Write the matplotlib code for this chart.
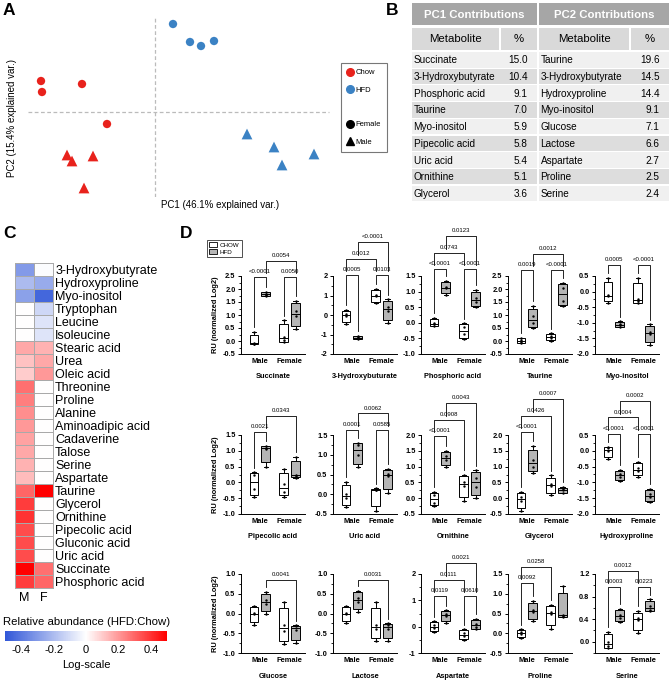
import matplotlib
matplotlib.use("Agg")
import matplotlib.pyplot as plt
import numpy as np
from matplotlib.patches import Rectangle, Patch
from matplotlib.lines import Line2D
from matplotlib.colors import LinearSegmentedColormap
from matplotlib.ticker import MultipleLocator, AutoMinorLocator, FormatStrFormatter

plt.rcParams["font.family"] = ["Liberation Sans", "DejaVu Sans"]
plt.rcParams["axes.unicode_minus"] = False

W, H = 669, 680

# ---------------- A: PCA scores ----------------
chow_f_pc1 = [-4.56, -4.52, -2.92, -1.92]
chow_f_pc2 = [1.24, 0.80, 1.12, -0.48]
chow_m_pc1 = [-3.52, -3.32, -2.48, -2.84]
chow_m_pc2 = [-1.72, -1.96, -1.76, -3.04]
hfd_f_pc1 = [0.72, 1.40, 1.84, 2.36]
hfd_f_pc2 = [3.52, 2.80, 2.64, 2.84]
hfd_m_pc1 = [3.68, 4.76, 5.08, 6.36]
hfd_m_pc2 = [-0.88, -1.40, -2.12, -1.68]

# ---------------- B: contributions table ----------------
pc1_names = ["Succinate", "3-Hydroxybutyrate", "Phosphoric acid", "Taurine", "Myo-inositol",
             "Pipecolic acid", "Uric acid", "Ornithine", "Glycerol"]
pc1_pct = ["15.0", "10.4", "9.1", "7.0", "5.9", "5.8", "5.4", "5.1", "3.6"]
pc2_names = ["Taurine", "3-Hydroxybutyrate", "Hydroxyproline", "Myo-inositol", "Glucose",
             "Lactose", "Aspartate", "Proline", "Serine"]
pc2_pct = ["19.6", "14.5", "14.4", "9.1", "7.1", "6.6", "2.7", "2.5", "2.4"]

# ---------------- C: heatmap (HFD:Chow, log) ----------------
heat_names = ["3-Hydroxybutyrate", "Hydroxyproline", "Myo-inositol", "Tryptophan", "Leucine",
              "Isoleucine", "Stearic acid", "Urea", "Oleic acid", "Threonine", "Proline",
              "Alanine", "Aminoadipic acid", "Cadaverine", "Talose", "Serine", "Aspartate",
              "Taurine", "Glycerol", "Ornithine", "Pipecolic acid", "Gluconic acid",
              "Uric acid", "Succinate", "Phosphoric acid"]
heat_m = [-0.30, -0.20, -0.28, 0.0, 0.0, 0.0, 0.17, 0.12, 0.10, 0.28, 0.25, 0.22, 0.20,
          0.18, 0.17, 0.15, 0.13, 0.30, 0.38, 0.40, 0.35, 0.35, 0.35, 0.50, 0.38]
heat_f = [-0.01, -0.25, -0.45, -0.12, -0.08, -0.08, 0.15, 0.17, 0.20, 0.0, 0.0, 0.0, 0.0,
          0.0, 0.0, 0.0, 0.0, 0.50, 0.0, 0.0, 0.0, 0.0, 0.0, 0.28, 0.30]

# ---------------- D: box plots (Chow M, HFD M, Chow F, HFD F) ----------------
succinate = [[-0.12, -0.10, -0.08, 0.35], [1.72, 1.78, 1.82, 1.90],
             [-0.05, 0.05, 0.15, 0.80], [0.45, 0.95, 1.15, 1.55]]
hydroxybuturate = [[-0.45, -0.05, 0.05, 0.25], [-1.25, -1.20, -1.15, -1.08],
                   [0.60, 0.95, 1.05, 1.35], [-0.40, 0.20, 0.40, 0.80]]
phosphoric = [[-0.10, -0.05, 0.0, 0.15], [0.90, 1.10, 1.15, 1.35],
              [-0.52, -0.35, -0.15, -0.02], [0.50, 0.68, 0.78, 1.05]]
taurine = [[-0.08, -0.02, 0.05, 0.12], [0.50, 0.70, 0.95, 1.35],
           [0.0, 0.10, 0.20, 0.30], [1.35, 1.55, 2.05, 2.25]]
myoinositol = [[-0.35, -0.15, -0.10, 0.45], [-1.15, -1.08, -1.03, -0.95],
               [-0.38, -0.30, -0.25, 0.45], [-1.70, -1.35, -1.28, -1.05]]
pipecolic = [[-0.45, -0.20, 0.25, 0.32], [0.50, 1.05, 1.10, 1.15],
             [-0.45, -0.30, -0.05, 0.42], [0.15, 0.20, 0.25, 0.80]]
uric = [[-0.32, -0.10, 0.0, 0.32], [0.70, 1.0, 1.25, 1.30],
        [-0.42, 0.10, 0.12, 0.15], [0.02, 0.45, 0.52, 0.65]]
ornithine = [[-0.25, -0.15, 0.10, 0.20], [0.98, 1.20, 1.35, 1.50],
             [-0.10, 0.40, 0.50, 0.75], [0.0, 0.35, 0.65, 0.88]]
glycerol = [[-0.40, -0.10, 0.05, 0.20], [0.80, 1.0, 1.20, 1.65],
            [0.10, 0.40, 0.45, 0.72], [0.15, 0.25, 0.30, 0.35]]
hydroxyproline = [[-0.25, 0.0, 0.08, 0.12], [-0.95, -0.82, -0.72, -0.60],
                  [-0.82, -0.65, -0.55, -0.35], [-1.62, -1.45, -1.38, -1.20]]
glucose = [[-0.28, -0.02, 0.02, 0.20], [0.0, 0.25, 0.35, 0.55],
           [-0.78, -0.45, -0.30, 0.30], [-0.75, -0.42, -0.32, -0.30]]
lactose = [[-0.25, -0.02, 0.02, 0.20], [0.05, 0.30, 0.40, 0.58],
           [-0.70, -0.40, -0.30, 0.30], [-0.70, -0.40, -0.30, -0.25]]
aspartate = [[-0.20, -0.05, 0.05, 0.20], [0.15, 0.40, 0.50, 0.62],
             [-0.50, -0.35, -0.25, -0.10], [-0.10, 0.0, 0.10, 0.30]]
proline = [[-0.12, -0.03, 0.03, 0.10], [0.30, 0.55, 0.60, 0.82],
           [0.12, 0.50, 0.55, 0.72], [0.40, 0.43, 0.47, 1.20]]
serine = [[-0.12, -0.08, 0.0, 0.18], [0.35, 0.42, 0.48, 0.58],
          [0.15, 0.38, 0.42, 0.55], [0.54, 0.57, 0.63, 0.75]]

# p-values: (group a, group b, label); 0=Chow M, 1=HFD M, 2=Chow F, 3=HFD F
succinate_p = [(0, 1, "<0.0001"), (2, 3, "0.0050"), (1, 3, "0.0054")]
hydroxybuturate_p = [(0, 1, "0.0005"), (2, 3, "0.0103"), (0, 2, "0.0012"), (1, 3, "<0.0001")]
phosphoric_p = [(0, 1, "<0.0001"), (2, 3, "<0.0001"), (0, 2, "0.0743"), (1, 3, "0.0123")]
taurine_p = [(0, 1, "0.0019"), (2, 3, "<0.0001"), (1, 3, "0.0012")]
myoinositol_p = [(0, 1, "0.0005"), (2, 3, "<0.0001")]
pipecolic_p = [(0, 1, "0.0021"), (1, 3, "0.0343")]
uric_p = [(0, 1, "0.0001"), (2, 3, "0.0585"), (1, 3, "0.0062")]
ornithine_p = [(0, 1, "<0.0001"), (0, 2, "0.0908"), (1, 3, "0.0043")]
glycerol_p = [(0, 1, "<0.0001"), (0, 2, "0.0426"), (1, 3, "0.0007")]
hydroxyproline_p = [(0, 1, "<0.0001"), (2, 3, "<0.0001"), (0, 2, "0.0004"), (1, 3, "0.0002")]
glucose_p = [(1, 3, "0.0041")]
lactose_p = [(1, 3, "0.0031")]
aspartate_p = [(0, 1, "0.0119"), (2, 3, "0.0610"), (0, 2, "0.0111"), (1, 3, "0.0021")]
proline_p = [(0, 1, "0.0092"), (0, 2, "0.0258")]
serine_p = [(0, 1, "0.0003"), (2, 3, "0.0223"), (0, 2, "0.0012")]

box_titles = ["Succinate", "3-Hydroxybuturate", "Phosphoric acid", "Taurine", "Myo-inositol",
              "Pipecolic acid", "Uric acid", "Ornithine", "Glycerol", "Hydroxyproline",
              "Glucose", "Lactose", "Aspartate", "Proline", "Serine"]
box_data = [succinate, hydroxybuturate, phosphoric, taurine, myoinositol,
            pipecolic, uric, ornithine, glycerol, hydroxyproline,
            glucose, lactose, aspartate, proline, serine]
box_pvals = [succinate_p, hydroxybuturate_p, phosphoric_p, taurine_p, myoinositol_p,
             pipecolic_p, uric_p, ornithine_p, glycerol_p, hydroxyproline_p,
             glucose_p, lactose_p, aspartate_p, proline_p, serine_p]
# axis ranges (ymin, ymax, step)
box_ylims = [(-0.5, 2.5, 0.5), (-2, 2, 1), (-1.0, 1.5, 0.5), (-0.5, 2.5, 0.5), (-2.0, 0.5, 0.5),
             (-1.0, 1.5, 0.5), (-0.5, 1.5, 0.5), (-0.5, 2.0, 0.5), (-0.5, 2.0, 0.5), (-2.0, 0.5, 0.5),
             (-1.0, 1.0, 0.5), (-1.0, 1.0, 0.5), (-1, 2, 1), (-0.5, 1.5, 0.5), (-0.2, 1.2, 0.4)]
# height of the lowest bracket tier, in pixels above the axis top
bracket_base = [-1, 1, 7, 6, 11, 3, 5, -1, 3, 1, -6, -6, -22, -9, -13]

fig = plt.figure(figsize=(W / 100, H / 100), dpi=100)


def add_ax_px(x0, y0, x1, y1):
    return fig.add_axes([x0 / W, 1 - y1 / H, (x1 - x0) / W, (y1 - y0) / H])


# overlay in pixel coordinates for table and panel letters
ov = fig.add_axes([0, 0, 1, 1])
ov.set_xlim(0, W)
ov.set_ylim(H, 0)
ov.axis("off")

for letter, x, y in [("A", 3, 3), ("B", 386, 3), ("C", 3, 226), ("D", 180, 226)]:
    ov.text(x, y, letter, fontsize=12.5, fontweight="bold", va="top", ha="left")

# ---------------- A ----------------
red, blue = "#e8221c", "#3b82c4"
axA = add_ax_px(25, 10, 335, 197)
axA.set_xlim(-5.2, 7.2)
axA.set_ylim(-3.4, 4.08)
axA.axhline(0, xmin=0.01, xmax=0.98, color="#bbbbbb", ls=(0, (3, 2)), lw=0.9)
axA.axvline(0, ymin=0.0, ymax=0.96, color="#bbbbbb", ls=(0, (3, 2)), lw=0.9)
axA.scatter(chow_f_pc1, chow_f_pc2, s=36, marker="o", color=red, edgecolors="none", zorder=3)
axA.scatter(chow_m_pc1, chow_m_pc2, s=60, marker="^", color=red, edgecolors="none", zorder=3)
axA.scatter(hfd_f_pc1, hfd_f_pc2, s=36, marker="o", color=blue, edgecolors="none", zorder=3)
axA.scatter(hfd_m_pc1, hfd_m_pc2, s=60, marker="^", color=blue, edgecolors="none", zorder=3)
axA.axis("off")
ov.text(220, 205, "PC1 (46.1% explained var.)", fontsize=7, ha="center", va="center")
ov.text(12, 118, "PC2 (15.4% explained var.)", fontsize=7, ha="center", va="center", rotation=90)

handlesA = [Line2D([], [], marker="o", ls="", color=red, markersize=5.5),
            Line2D([], [], marker="o", ls="", color=blue, markersize=5.5),
            Line2D([], [], ls="", marker=""),
            Line2D([], [], marker="o", ls="", color="black", markersize=5.5),
            Line2D([], [], marker="^", ls="", color="black", markersize=6)]
legA = fig.legend(handlesA, ["Chow", "HFD", "", "Female", "Male"], loc="upper left",
                  bbox_to_anchor=(341 / W, 1 - 63 / H), fontsize=5.5, frameon=True,
                  fancybox=False, edgecolor="#555555", handlelength=0.8, handletextpad=0.3,
                  labelspacing=1.3, borderpad=0.8, borderaxespad=0)
legA.get_frame().set_linewidth(0.8)

# ---------------- B ----------------
head_c, sub_c = "#a6a6a6", "#d9d9d9"
row_c = ["#f0f0f0", "#dddddd"]
blocks = [(412, 500, 537, pc1_names, pc1_pct, "PC1 Contributions"),
          (539, 630, 669, pc2_names, pc2_pct, "PC2 Contributions")]
row_top, row_h = 52, 16.7
for x0, xm, x1, names, pcts, title in blocks:
    ov.add_patch(Rectangle((x0, 3), x1 - x0, 22, color=head_c, lw=0))
    ov.text((x0 + x1) / 2, 14.5, title, color="white", fontweight="bold", fontsize=8.2,
            ha="center", va="center")
    ov.add_patch(Rectangle((x0, 28), xm - x0 - 1, 22, color=sub_c, lw=0))
    ov.add_patch(Rectangle((xm + 1, 28), x1 - xm - 1, 22, color=sub_c, lw=0))
    ov.text((x0 + xm) / 2, 39, "Metabolite", fontsize=8.2, ha="center", va="center")
    ov.text((xm + x1) / 2, 39, "%", fontsize=8.2, ha="center", va="center")
    for i, (nm, pc) in enumerate(zip(names, pcts)):
        y = row_top + i * row_h
        ov.add_patch(Rectangle((x0, y), x1 - x0, row_h - 1.2, color=row_c[i % 2], lw=0))
        ov.text(x0 + 1.5, y + row_h / 2, nm, fontsize=7.2, ha="left", va="center")
        ov.text(x1 - 9.5, y + row_h / 2, pc, fontsize=7.2, ha="right", va="center")

# ---------------- C ----------------
cmap = LinearSegmentedColormap.from_list("bwr2", ["#3157d8", "#ffffff", "#ff0000"])
axC = add_ax_px(15, 263, 53, 588)
heat = np.column_stack([heat_m, heat_f])
mesh = axC.pcolormesh(heat, cmap=cmap, vmin=-0.5, vmax=0.5, edgecolors="#a9a9a9", linewidth=0.7)
axC.set_ylim(len(heat_names), 0)
axC.set_yticks(np.arange(len(heat_names)) + 0.5)
axC.set_yticklabels(heat_names, fontsize=9.0)
axC.yaxis.tick_right()
axC.set_xticks([0.5, 1.5])
axC.set_xticklabels(["M", "F"], fontsize=9)
axC.tick_params(length=0, pad=1.5)
axC.tick_params(axis="x", pad=3)
for sp in axC.spines.values():
    sp.set_color("#a9a9a9")
    sp.set_linewidth(0.7)

cax = add_ax_px(5, 631, 167, 641)
cb = fig.colorbar(mesh, cax=cax, orientation="horizontal", ticks=[-0.4, -0.2, 0, 0.2, 0.4])
cb.outline.set_visible(False)
cb.ax.set_xticklabels(["-0.4", "-0.2", "0", "0.2", "0.4"], fontsize=8)
cb.ax.tick_params(length=0, pad=3)
ov.text(87, 622, "Relative abundance (HFD:Chow)", fontsize=8.2, ha="center", va="center")
ov.text(86, 665, "Log-scale", fontsize=8, ha="center", va="center")

# ---------------- D ----------------
group_pos = [1.0, 2.0, 3.5, 4.5]
group_fill = ["white", "#b5b5b5", "white", "#b5b5b5"]
col_x = [241, 333, 421, 508, 595]
row_y = [(276, 354), (435, 514), (574, 653)]

handlesD = [Patch(facecolor="white", edgecolor="black", lw=0.6),
            Patch(facecolor="#b5b5b5", edgecolor="black", lw=0.6)]
legD = fig.legend(handlesD, ["CHOW", "HFD"], loc="upper left", bbox_to_anchor=(207 / W, 1 - 240 / H),
                  fontsize=4.5, frameon=True, fancybox=False, edgecolor="black",
                  handlelength=1.3, handleheight=0.8, handletextpad=0.4, labelspacing=0.25,
                  borderpad=0.35, borderaxespad=0)
legD.get_frame().set_linewidth(0.6)

tier_px = 16.5
for k, (title, data, pv, (ymin, ymax, step)) in enumerate(zip(box_titles, box_data, box_pvals, box_ylims)):
    r, c = divmod(k, 5)
    y0, y1 = row_y[r]
    ax_h = y1 - y0
    ax = add_ax_px(col_x[c], y0, col_x[c] + 64, y1)
    stats = []
    for vals in data:
        q1, med, q3 = np.percentile(vals, [25, 50, 75], method="weibull")
        stats.append(dict(med=med, q1=q1, q3=q3, whislo=min(vals), whishi=max(vals), fliers=[]))
    bp = ax.bxp(stats, positions=group_pos, widths=0.75, patch_artist=True, capwidths=0.35,
                boxprops=dict(lw=0.7, edgecolor="black"),
                medianprops=dict(color="black", lw=0.7),
                whiskerprops=dict(lw=0.7), capprops=dict(lw=0.7), manage_ticks=False)
    for patch, fc in zip(bp["boxes"], group_fill):
        patch.set_facecolor(fc)
    for pos, vals in zip(group_pos, data):
        ax.scatter([pos] * len(vals), vals, s=3, color="black", zorder=4, linewidths=0)

    ax.set_xlim(-0.1, 5.3)
    ax.set_ylim(ymin, ymax)
    ax.yaxis.set_major_locator(MultipleLocator(step))
    ax.yaxis.set_minor_locator(AutoMinorLocator(2))
    ax.yaxis.set_major_formatter(FormatStrFormatter("%d" if step >= 1 else "%.1f"))
    ax.set_xticks([1.5, 4.0])
    ax.set_xticklabels(["Male", "Female"], fontsize=5.4, fontweight="bold")
    ax.tick_params(axis="x", length=0, pad=3)
    ax.tick_params(axis="y", which="major", length=2.5, width=0.7, pad=1.5, labelsize=5.3)
    ax.tick_params(axis="y", which="minor", length=1.5, width=0.6)
    for lab in ax.get_yticklabels():
        lab.set_fontweight("bold")
    for s in ["top", "right"]:
        ax.spines[s].set_visible(False)
    for s in ["left", "bottom"]:
        ax.spines[s].set_linewidth(0.7)
    ax.set_xlabel(title, fontsize=5.3, fontweight="bold", labelpad=6)
    if c == 0:
        ax.set_ylabel("RU (normalized Log2)", fontsize=5.3, fontweight="bold", labelpad=3)

    # significance brackets
    trans = ax.get_xaxis_transform()
    frac = lambda v: (v - ymin) / (ymax - ymin)
    floor = [frac(max(v)) + 0.06 for v in data]
    placed = []
    for a, b, lab in sorted(pv, key=lambda t: (t[1] - t[0], t[0])):
        over = [t for (pa, pb, t) in placed if pa <= b and a <= pb]
        tier = 0 if not over else max(over) + 1
        y = 1 + (bracket_base[k] + tier * tier_px) / ax_h
        xa, xb = group_pos[a], group_pos[b]
        ax.plot([xa, xa, xb, xb], [min(floor[a], y - 0.03), y, y, min(floor[b], y - 0.03)],
                transform=trans, color="black", lw=0.6, clip_on=False)
        ax.text((xa + xb) / 2, y + 0.035, lab, transform=trans, fontsize=4.3, ha="center",
                va="bottom", clip_on=False)
        for g in range(a, b + 1):
            floor[g] = max(floor[g], y + 0.05)
        placed.append((a, b, tier))

fig.savefig("out.png", dpi=100)
